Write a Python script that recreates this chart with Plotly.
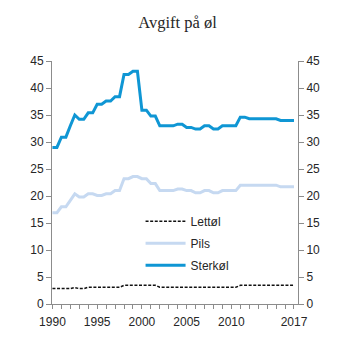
import plotly.graph_objects as go

# Half-year periods 1990.0 ... 2017.0
periods = [1990 + 0.5 * i for i in range(55)]

lettol = [2.85, 2.85, 2.85, 2.85, 2.85, 3.05, 2.85, 2.85,
          3.1, 3.1, 3.1, 3.1, 3.1, 3.1, 3.1, 3.1,
          3.45, 3.45, 3.45, 3.45, 3.45, 3.45, 3.45, 3.45,
          3.1, 3.1, 3.1, 3.1, 3.1, 3.1, 3.1, 3.1, 3.1, 3.1, 3.1, 3.1, 3.1, 3.1, 3.1, 3.1, 3.1, 3.1,
          3.45, 3.45, 3.45, 3.45, 3.45, 3.45, 3.45, 3.45, 3.45, 3.45, 3.45, 3.45, 3.45]

pils = [16.9, 16.9, 18.0, 18.0, 19.2, 20.4, 19.8, 19.8, 20.4, 20.4,
        20.1, 20.1, 20.4, 20.4, 21.0, 21.0, 23.2, 23.2, 23.6, 23.6,
        23.2, 23.2, 22.3, 22.3, 21.0, 21.0, 21.0, 21.0, 21.3, 21.3,
        21.0, 21.0, 20.6, 20.6, 21.0, 21.0, 20.6, 20.6, 21.0, 21.0,
        21.0, 21.0, 22.0, 22.0, 22.0, 22.0, 22.0, 22.0, 22.0, 22.0,
        22.0, 21.7, 21.7, 21.7, 21.7]

sterkol = [29.0, 29.0, 30.9, 30.9, 33.0, 35.0, 34.2, 34.2, 35.4, 35.4,
           37.0, 37.0, 37.6, 37.6, 38.4, 38.4, 42.5, 42.5, 43.1, 43.1,
           35.9, 35.9, 34.8, 34.8, 33.0, 33.0, 33.0, 33.0, 33.3, 33.3,
           32.7, 32.7, 32.4, 32.4, 33.0, 33.0, 32.4, 32.4, 33.0, 33.0,
           33.0, 33.0, 34.6, 34.6, 34.3, 34.3, 34.3, 34.3, 34.3, 34.3,
           34.3, 34.0, 34.0, 34.0, 34.0]

series_names = ["Lettøl", "Pils", "Sterkøl"]
title_text = "Avgift på øl"
year_ticks = list(range(1990, 2018))
year_labels = ["1990", "1995", "2000", "2005", "2010", "2017"]
y_ticks = [0, 5, 10, 15, 20, 25, 30, 35, 40, 45]

font_sans = "Liberation Sans, Arial, sans-serif"
axis_col = "#8c8c8c"
text_col = "#262626"

fig = go.Figure()
fig.add_trace(go.Scatter(x=periods, y=lettol, name=series_names[0], mode="lines",
                         line=dict(color="#111111", width=1.5, dash="3px,1.6px"),
                         legendgroup="a"))
fig.add_trace(go.Scatter(x=periods, y=pils, name=series_names[1], mode="lines",
                         line=dict(color="#c6d9f1", width=3), legendgroup="b"))
fig.add_trace(go.Scatter(x=periods, y=sterkol, name=series_names[2], mode="lines",
                         line=dict(color="#0f96d4", width=3), legendgroup="c"))
# invisible copy on the right-hand axis so that it is drawn
fig.add_trace(go.Scatter(x=periods, y=sterkol, yaxis="y2", mode="lines",
                         line=dict(width=0, color="rgba(0,0,0,0)"), opacity=0,
                         showlegend=False, hoverinfo="skip"))

ticktext = [str(y) if str(y) in year_labels else "" for y in year_ticks]

fig.update_layout(
    width=353, height=353,
    margin=dict(l=52, r=55, t=61, b=49),
    paper_bgcolor="white", plot_bgcolor="white",
    title=dict(text=title_text, x=0.503, xanchor="center", y=1 - 22.5 / 353, yanchor="middle",
               yref="container",
               font=dict(family="Liberation Serif, Times New Roman, serif", size=16.5, color=text_col)),
    font=dict(family=font_sans, size=12, color=text_col),
    showlegend=True,
    legend=dict(x=0.36, y=0.40, xanchor="left", yanchor="top", bgcolor="rgba(0,0,0,0)",
                font=dict(family=font_sans, size=12, color=text_col),
                tracegroupgap=3, itemwidth=40),
    xaxis=dict(range=[1989.95, 2017.45], tickvals=year_ticks, ticktext=ticktext,
               ticks="outside", ticklen=4, tickcolor=axis_col, showline=True,
               linecolor=axis_col, linewidth=1, showgrid=False, zeroline=False,
               ticklabelstandoff=3,
               tickfont=dict(size=12, color=text_col)),
    yaxis=dict(range=[0, 45], tickvals=y_ticks, ticks="outside", ticklen=5,
               tickcolor=axis_col, showline=True, linecolor=axis_col, linewidth=1,
               showgrid=False, zeroline=False, tickfont=dict(size=12, color=text_col)),
    yaxis2=dict(range=[0, 45], tickvals=y_ticks, ticks="outside", ticklen=5,
                tickcolor=axis_col, showline=True, linecolor=axis_col, linewidth=1,
                showgrid=False, zeroline=False, overlaying="y", side="right",
                anchor="x", tickfont=dict(size=12, color=text_col)),
)

fig.write_html("out.html")
